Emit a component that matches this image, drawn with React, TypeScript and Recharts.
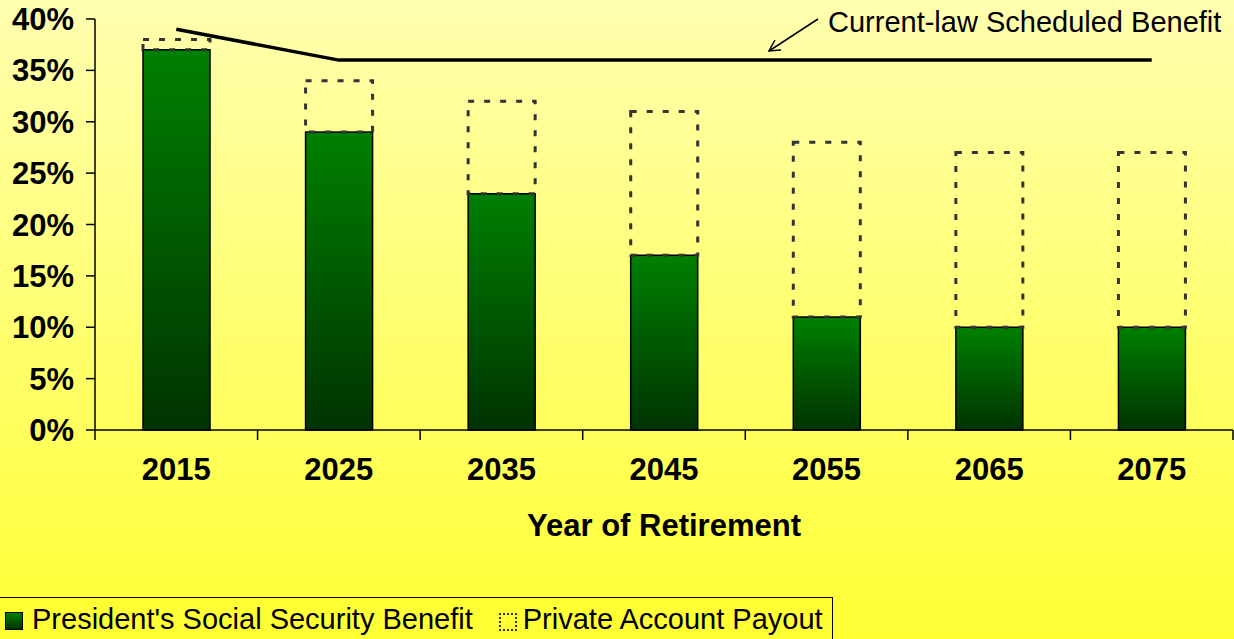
import React from 'react';
import { ComposedChart, Bar, Line, XAxis, YAxis, Label } from 'recharts';

// values (percent of pre-retirement earnings)
const years = ['2015', '2025', '2035', '2045', '2055', '2065', '2075'];
const presidentBenefit = [37, 29, 23, 17, 11, 10, 10];
const privatePayout = [1, 5, 9, 14, 17, 17, 17];
const scheduledBenefit = [39, 36, 36, 36, 36, 36, 36];
const yTicks = [0, 5, 10, 15, 20, 25, 30, 35, 40];

const chartData = years.map((year, i) => ({
  year,
  president: presidentBenefit[i],
  privateAcct: privatePayout[i],
  scheduled: scheduledBenefit[i],
}));

const FONT = '"Liberation Sans", Arial, sans-serif';
const TICK_SIZE = 10;
const TICK_MARGIN = 18;

// year label in the middle of the band, tick marks on the band edges
const YearTick = (props: any) => {
  const { x, y, payload, index, visibleTicksCount } = props;
  const half = payload?.offset ?? 1138 / 14;
  const y0 = y - TICK_MARGIN - TICK_SIZE;
  const isLast = index === visibleTicksCount - 1;
  return (
    <g>
      <line x1={x - half} y1={y0} x2={x - half} y2={y0 + TICK_SIZE} stroke="#000" strokeWidth={1.5} />
      {isLast && (
        <line x1={x + half} y1={y0} x2={x + half} y2={y0 + TICK_SIZE} stroke="#000" strokeWidth={1.5} />
      )}
      <text
        x={x}
        y={y}
        dy="0.71em"
        textAnchor="middle"
        fontSize={31}
        fontWeight={700}
        fontFamily={FONT}
        fill="#000"
      >
        {payload.value}
      </text>
    </g>
  );
};

const App: React.FC = () => {
  return (
    <div
      style={{
        position: 'absolute',
        left: 0,
        top: 0,
        width: 1234,
        height: 639,
        overflow: 'hidden',
        background: 'linear-gradient(to bottom, #FFFFB0 0%, #FFFF33 100%)',
        fontFamily: FONT,
      }}
    >
      <ComposedChart
        width={1234}
        height={639}
        data={chartData}
        margin={{ top: 19, right: 1, left: 0, bottom: 208 }}
      >
        <defs>
          <linearGradient id="greenBar" x1="0" y1="0" x2="0" y2="1">
            <stop offset="0%" stopColor="#008000" />
            <stop offset="100%" stopColor="#003300" />
          </linearGradient>
        </defs>
        <XAxis
          dataKey="year"
          height={1}
          axisLine={{ stroke: '#000', strokeWidth: 1.5 }}
          tickLine={false}
          tickSize={TICK_SIZE}
          tickMargin={TICK_MARGIN}
          interval={0}
          tick={<YearTick />}
        >
          <Label
            value="Year of Retirement"
            position="bottom"
            offset={83}
            style={{ fontSize: 31, fontWeight: 700, fill: '#000', fontFamily: FONT }}
          />
        </XAxis>
        <YAxis
          width={95}
          domain={[0, 40]}
          ticks={yTicks}
          tickFormatter={(v: number) => `${v}%`}
          axisLine={{ stroke: '#000', strokeWidth: 1.5 }}
          tickLine={{ stroke: '#000', strokeWidth: 1.5 }}
          tickSize={9}
          tickMargin={12}
          tick={{ fontSize: 31, fontWeight: 700, fill: '#000', fontFamily: FONT }}
        />
        <Bar
          dataKey="president"
          stackId="a"
          barSize={67}
          fill="url(#greenBar)"
          stroke="#000"
          strokeWidth={1.5}
          isAnimationActive={false}
        />
        <Bar
          dataKey="privateAcct"
          stackId="a"
          barSize={67}
          fill="none"
          stroke="#333"
          strokeWidth={3}
          strokeDasharray="6 10"
          isAnimationActive={false}
        />
        <Line
          dataKey="scheduled"
          type="linear"
          stroke="#000"
          strokeWidth={3.5}
          dot={false}
          activeDot={false}
          isAnimationActive={false}
        />
      </ComposedChart>

      {/* annotation for the scheduled-benefit line */}
      <svg
        width={1234}
        height={639}
        style={{ position: 'absolute', left: 0, top: 0, pointerEvents: 'none' }}
      >
        <text x={828} y={32} fontSize={29} fontFamily={FONT} fill="#000">
          Current-law Scheduled Benefit
        </text>
        <line x1={818} y1={19} x2={769} y2={51} stroke="#000" strokeWidth={1.5} />
        <polyline points="775,40 769,51 781,50" fill="none" stroke="#000" strokeWidth={1.5} />
      </svg>

      {/* legend */}
      <div
        style={{
          position: 'absolute',
          left: -1,
          top: 597,
          width: 834,
          height: 50,
          border: '1.5px solid #000',
          background: '#FFFF33',
          boxSizing: 'border-box',
          display: 'flex',
          alignItems: 'flex-start',
          paddingTop: 5,
          fontSize: 29,
          color: '#000',
          whiteSpace: 'nowrap',
        }}
      >
        <span
          style={{
            display: 'inline-block',
            width: 16,
            height: 16,
            marginLeft: 5,
            marginTop: 9,
            background: 'linear-gradient(to bottom, #008000, #003300)',
            border: '1.5px solid #000',
          }}
        />
        <span style={{ marginLeft: 9 }}>President's Social Security Benefit</span>
        <span
          style={{
            display: 'inline-block',
            width: 14,
            height: 14,
            marginLeft: 26,
            marginTop: 10,
            border: '2.5px dotted #333',
          }}
        />
        <span style={{ marginLeft: 6 }}>Private Account Payout</span>
      </div>
    </div>
  );
};

export default App;
